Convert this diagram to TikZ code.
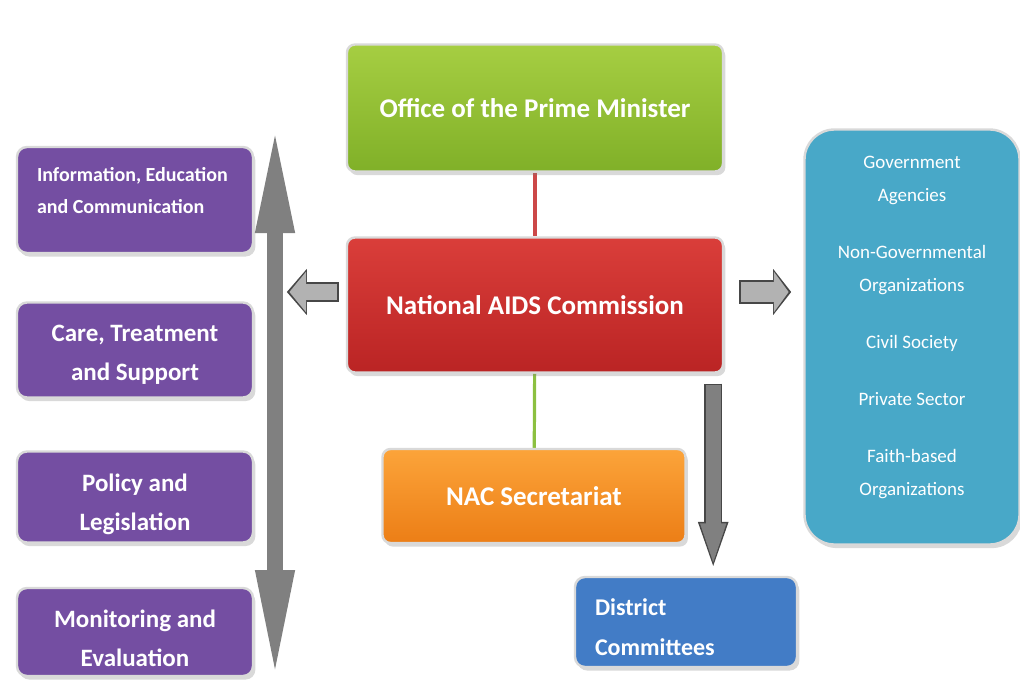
\documentclass[tikz,border=0pt]{standalone}
\usepackage{fontspec}
\setmainfont{Carlito}
\usetikzlibrary{arrows.meta}
\usetikzlibrary{shadows,backgrounds}

\definecolor{opmtop}{RGB}{166,206,66}
\definecolor{opmbot}{RGB}{128,176,40}
\definecolor{nactop}{RGB}{218,62,58}
\definecolor{nacbot}{RGB}{186,36,36}
\definecolor{sectop}{RGB}{252,164,58}
\definecolor{secbot}{RGB}{236,126,22}
\definecolor{distblue}{RGB}{66,124,198}
\definecolor{partteal}{RGB}{72,168,200}
\definecolor{areapurple}{RGB}{116,78,162}
\definecolor{linkred}{RGB}{204,72,72}
\definecolor{linkgreen}{RGB}{140,192,64}

\begin{document}
\begin{tikzpicture}[x=0.5pt, y=-0.5pt,
  box/.style={rounded corners=4pt, draw=white!85!black, line width=1.2pt,
    text=white, font=\bfseries\fontsize{13.5}{16}\selectfont,
    drop shadow={shadow xshift=1.2pt, shadow yshift=-1.8pt, opacity=0.3}},
  areabox/.style={box, rounded corners=5pt, fill=areapurple,
    minimum width=118pt, align=center,
    font=\bfseries\fontsize{12.5}{19.5}\selectfont},
  outerarrow/.style={draw=black!72, line width=#1},
  innerarrow/.style={line width=#1}]

% frame
\useasboundingbox (0,0) rectangle (1020,684);

% Central chain
\node[box, top color=opmtop, bottom color=opmbot, minimum width=188pt, minimum height=63.5pt]
  (opm) at (535,108) {Office of the Prime Minister};
\node[box, top color=nactop, bottom color=nacbot, minimum width=188pt, minimum height=67.5pt]
  (nac) at (535,305) {National AIDS Commission};
\node[box, top color=sectop, bottom color=secbot, minimum width=151.5pt, minimum height=47pt]
  (sec) at (534,496) {NAC Secretariat};
\node[box, fill=distblue, rounded corners=5pt, text width=91pt, inner xsep=10pt,
  minimum height=45pt, align=flush left, font=\bfseries\fontsize{12}{20}\selectfont]
  (dist) at (686,622) {\mbox{}\\[-6.5pt]District\\Committees};

% Partners
\node[box, fill=partteal, rounded corners=15pt, minimum width=107.5pt, minimum height=207.5pt,
  align=center, font=\fontsize{9.5}{16.5}\selectfont]
  (partners) at (912,337)
  {Government\\Agencies\\[12pt]Non-Governmental\\Organizations\\[12pt]Civil Society\\[12pt]Private Sector\\[12pt]Faith-based\\Organizations\\[-5pt]\mbox{}};

% Programme areas
\node[areabox, text width=98pt, inner xsep=10pt, minimum height=53pt, align=flush left,
  font=\bfseries\fontsize{10}{16}\selectfont]
  (iec) at (135,200) {Information, Education\\and Communication\\[-6pt]\mbox{}};
\node[areabox, minimum height=47.5pt] (care) at (135,350) {\mbox{}\\[-6.5pt]Care, Treatment\\and Support};
\node[areabox, minimum height=45.5pt] (policy) at (135,497) {\mbox{}\\[-3.5pt]Policy and\\Legislation};
\node[areabox, minimum height=44pt] (monitor) at (135,632) {\mbox{}\\[-4.5pt]Monitoring and\\Evaluation};

% Links
\begin{scope}[on background layer]
\draw[linkred, line width=1.6pt] (opm) -- (nac);
\draw[linkgreen, line width=1.6pt] (nac) -- (sec);
\end{scope}

% Double arrow along the areas
\coordinate (up) at (275,125);
\coordinate (down) at (275,680);
\draw[gray, line width=8pt,
  {Triangle[width=17.5pt,length=54pt]}-{Triangle[width=17.5pt,length=55pt]}] (up) -- (down);

% Block arrows
\draw[outerarrow=10pt, -{Triangle[width=22.5pt,length=10pt]}]
  ([shift={(-7,-13)}]nac.west) -- ([shift={(-59,-13)}]nac.west);
\draw[innerarrow=8.4pt, gray!60, shorten <=0.8pt, shorten >=1.3pt, -{Triangle[width=20pt,length=8.4pt]}]
  ([shift={(-7,-13)}]nac.west) -- ([shift={(-59,-13)}]nac.west);

\draw[outerarrow=12pt, -{Triangle[width=22.5pt,length=9pt]}]
  ([shift={(15,-13)}]nac.east) -- ([shift={(67,-13)}]nac.east);
\draw[innerarrow=10.4pt, gray!60, shorten <=0.8pt, shorten >=1.3pt, -{Triangle[width=20pt,length=7.4pt]}]
  ([shift={(15,-13)}]nac.east) -- ([shift={(67,-13)}]nac.east);

\coordinate (dtop) at ([xshift=-5.5pt,yshift=-5pt]nac.south east);
\draw[outerarrow=9pt, -{Triangle[width=13pt,length=25pt]}]
  (dtop) -- ([yshift=2pt]dtop |- dist.north);
\draw[innerarrow=7.4pt, gray, shorten <=0.8pt, shorten >=1.6pt, -{Triangle[width=11pt,length=22.6pt]}]
  (dtop) -- ([yshift=2pt]dtop |- dist.north);

\end{tikzpicture}
\end{document}
